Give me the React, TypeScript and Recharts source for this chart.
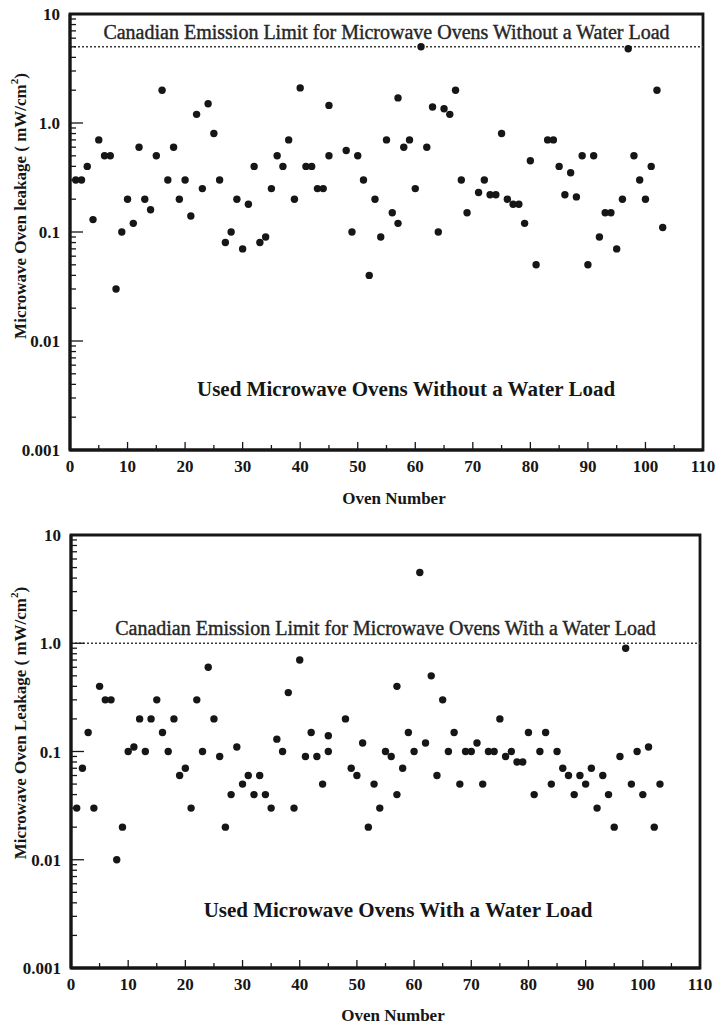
import React from 'react';
import { ScatterChart, Scatter, XAxis, YAxis, ReferenceLine, ReferenceArea, ReferenceDot } from 'recharts';

// ---------- data ----------
const ovensWithout = [
  1, 2, 3, 4, 5, 6, 7, 8, 9, 10, 11, 12, 13, 14, 15, 16, 17, 18, 19, 20,
  21, 22, 23, 24, 25, 26, 27, 28, 29, 30, 31, 32, 33, 34, 35, 36, 37, 38, 39, 40,
  41, 42, 43, 44, 45, 45, 48, 49, 50, 51, 52, 53, 54, 55, 56, 57, 57, 58, 59, 60,
  61, 62, 63, 64, 65, 66, 67, 68, 69, 71, 72, 73, 74, 75, 76, 77, 78, 79, 80, 81,
  83, 84, 85, 86, 87, 88, 89, 90, 91, 92, 93, 94, 95, 96, 97, 98, 99, 100, 101, 102, 103,
];
const leakageWithout = [
  0.3, 0.3, 0.4, 0.13, 0.7, 0.5, 0.5, 0.03, 0.1, 0.2,
  0.12, 0.6, 0.2, 0.16, 0.5, 2.0, 0.3, 0.6, 0.2, 0.3,
  0.14, 1.2, 0.25, 1.5, 0.8, 0.3, 0.08, 0.1, 0.2, 0.07,
  0.18, 0.4, 0.08, 0.09, 0.25, 0.5, 0.4, 0.7, 0.2, 2.1,
  0.4, 0.4, 0.25, 0.25, 1.45, 0.5,
  0.56, 0.1, 0.5, 0.3, 0.04, 0.2, 0.09, 0.7, 0.15, 1.7, 0.12,
  0.6, 0.7, 0.25, 5.0, 0.6, 1.4, 0.1, 1.35, 1.2, 2.0, 0.3, 0.15,
  0.23, 0.3, 0.22, 0.22, 0.8, 0.2, 0.18, 0.18, 0.12, 0.45, 0.05,
  0.7, 0.7, 0.4, 0.22, 0.35, 0.21, 0.5, 0.05, 0.5, 0.09, 0.15, 0.15, 0.07, 0.2, 4.8, 0.5, 0.3, 0.2, 0.4, 2.0, 0.11,
];

const ovensWith = [
  1, 2, 3, 4, 5, 6, 7, 8, 9, 10, 11, 12, 13, 14, 15, 16, 17, 18, 19, 20,
  21, 22, 23, 24, 25, 26, 27, 28, 29, 30, 31, 32, 33, 34, 35, 36, 37, 38, 39, 40,
  41, 42, 43, 44, 45, 45, 48, 49, 50, 51, 52, 53, 54, 55, 56, 57, 57, 58, 59, 60,
  61, 62, 63, 64, 65, 66, 67, 68, 69, 70, 71, 72, 73, 74, 75, 76, 77, 78, 79, 80,
  81, 82, 83, 84, 85, 86, 87, 88, 89, 90, 91, 92, 93, 94, 95, 96, 97, 98, 99, 100, 101, 102, 103,
];
const leakageWith = [
  0.03, 0.07, 0.15, 0.03, 0.4, 0.3, 0.3, 0.01, 0.02, 0.1,
  0.11, 0.2, 0.1, 0.2, 0.3, 0.15, 0.1, 0.2, 0.06, 0.07,
  0.03, 0.3, 0.1, 0.6, 0.2, 0.09, 0.02, 0.04, 0.11, 0.05,
  0.06, 0.04, 0.06, 0.04, 0.03, 0.13, 0.1, 0.35, 0.03, 0.7,
  0.09, 0.15, 0.09, 0.05, 0.14, 0.1,
  0.2, 0.07, 0.06, 0.12, 0.02, 0.05, 0.03, 0.1, 0.09, 0.4, 0.04,
  0.07, 0.15, 0.1, 4.5, 0.12, 0.5, 0.06, 0.3, 0.1, 0.15, 0.05, 0.1, 0.1,
  0.12, 0.05, 0.1, 0.1, 0.2, 0.09, 0.1, 0.08, 0.08, 0.15,
  0.04, 0.1, 0.15, 0.05, 0.1, 0.07, 0.06, 0.04, 0.06, 0.05,
  0.07, 0.03, 0.06, 0.04, 0.02, 0.09, 0.9, 0.05, 0.1, 0.04, 0.11, 0.02, 0.05,
];

const xTicks = [0, 5, 10, 15, 20, 25, 30, 35, 40, 45, 50, 55, 60, 65, 70, 75, 80, 85, 90, 95, 100, 105, 110];
const xMajorTicks = [0, 10, 20, 30, 40, 50, 60, 70, 80, 90, 100, 110];
const yDecades = [0.001, 0.01, 0.1, 1, 10];
const yDecadeLabels = ['0.001', '0.01', '0.1', '1.0', '10'];
const yMinorSteps = [2, 3, 4, 5, 6, 7, 8, 9];

const limitWithout = 5;
const limitWith = 1;
const limitWithoutText = 'Canadian Emission Limit for Microwave Ovens Without a Water Load';
const limitWithText = 'Canadian Emission Limit for Microwave Ovens With a Water Load';
const noteWithoutText = 'Used Microwave Ovens Without a Water Load';
const noteWithText = 'Used Microwave Ovens With a Water Load';
const noteWithoutAt = { x: 58.4, y: 0.00315 };
const noteWithAt = { x: 57.2, y: 0.00298 };

const xTitle = 'Oven Number';

// ---------- derived ----------
const dataWithout = ovensWithout.map((x, i) => ({ x, y: leakageWithout[i] }));
const dataWith = ovensWith.map((x, i) => ({ x, y: leakageWith[i] }));
const yTicks: number[] = [];
yDecades.forEach((d, i) => {
  yTicks.push(d);
  if (i < yDecades.length - 1) yMinorSteps.forEach((m) => yTicks.push(+(d * m).toPrecision(6)));
});

const FONT = "'Liberation Serif', 'Times New Roman', serif";
const INK = '#161616';

const YTick = (props: any) => {
  const { x, y, payload } = props;
  const v = payload.value;
  const idx = yDecades.findIndex((d) => Math.abs(d - v) / d < 1e-6);
  const major = idx >= 0;
  return (
    <g>
      <line x1={x} x2={x + (major ? 13 : 6)} y1={y} y2={y} stroke={INK} strokeWidth={1.3} />
      {major && (
        <text x={x - 10} y={y + 6} textAnchor="end" fontFamily={FONT} fontWeight="bold" fontSize={17} fill={INK}>
          {yDecadeLabels[idx]}
        </text>
      )}
    </g>
  );
};

const XTick = (props: any) => {
  const { x, y, payload } = props;
  const v = payload.value;
  const major = xMajorTicks.includes(v);
  return (
    <g>
      <line x1={x} x2={x} y1={y} y2={y - (major ? 8 : 5)} stroke={INK} strokeWidth={1.3} />
      {major && (
        <text x={x} y={y + 22} textAnchor="middle" fontFamily={FONT} fontWeight="bold" fontSize={17} fill={INK}>
          {String(v)}
        </text>
      )}
    </g>
  );
};

const Dot = (props: any) => <circle cx={props.cx} cy={props.cy} r={3.7} fill={INK} />;

const limitLabel = (text: string) => (p: any) => {
  const vb = p.viewBox || {};
  return (
    <text
      x={vb.x + vb.width / 2}
      y={vb.y - 8}
      textAnchor="middle"
      fontFamily={FONT}
      fontSize={20}
      fill="#262626"
      stroke="#262626"
      strokeWidth={0.4}
    >
      {text}
    </text>
  );
};

const noteLabel = (text: string) => (p: any) => {
  const vb = p.viewBox || {};
  return (
    <text x={vb.x + (vb.width || 0) / 2} y={vb.y + (vb.height || 0) / 2} textAnchor="middle" fontFamily={FONT} fontWeight="bold" fontSize={21} fill={INK}>
      {text}
    </text>
  );
};

type PanelProps = {
  data: { x: number; y: number }[];
  limit: number;
  limitText: string;
  noteText: string;
  noteAt: { x: number; y: number };
  yTitle: string;
  margin: { top: number; right: number; bottom: number; left: number };
  yTitlePos: { x: number; y: number };
  xTitlePos: { x: number; y: number };
};

const Panel = ({ data, limit, limitText, noteText, noteAt, yTitle, margin, yTitlePos, xTitlePos }: PanelProps) => (
  <ScatterChart width={719} height={513} margin={margin}>
    <XAxis
      type="number"
      dataKey="x"
      domain={[0, 110]}
      ticks={xTicks}
      interval={0}
      tickSize={0}
      tickMargin={0}
      tick={<XTick />}
      axisLine={{ stroke: INK, strokeWidth: 3 }}
      height={30}
      label={{
        content: () => (
          <text x={xTitlePos.x} y={xTitlePos.y} textAnchor="middle" fontFamily={FONT} fontWeight="bold" fontSize={17} fill={INK}>
            {xTitle}
          </text>
        ),
      }}
    />
    <YAxis
      type="number"
      dataKey="y"
      scale="log"
      domain={[0.001, 10]}
      allowDataOverflow
      ticks={yTicks}
      interval={0}
      tickSize={0}
      tickMargin={0}
      tick={<YTick />}
      axisLine={{ stroke: INK, strokeWidth: 3 }}
      width={60}
      label={{
        content: () => (
          <text
            x={yTitlePos.x}
            y={yTitlePos.y}
            transform={`rotate(-90, ${yTitlePos.x}, ${yTitlePos.y})`}
            textAnchor="middle"
            dominantBaseline="central"
            fontFamily={FONT}
            fontWeight="bold"
            fontSize={17}
            fill={INK}
          >
            <tspan>{yTitle}</tspan>
            <tspan dy={-6} fontSize={11}>2</tspan>
            <tspan dy={6}>)</tspan>
          </text>
        ),
      }}
    />
    <ReferenceArea x1={0} x2={110} y1={0.001} y2={10} fill="none" fillOpacity={0} stroke={INK} strokeWidth={2.8} ifOverflow="visible" />
    <ReferenceLine y={limit} stroke="#3a3a3a" strokeWidth={1.6} strokeDasharray="2 2" label={{ content: limitLabel(limitText) }} />
    <ReferenceDot x={noteAt.x} y={noteAt.y} r={0} fill="none" stroke="none" label={{ content: noteLabel(noteText) }} />
    <Scatter data={data} shape={<Dot />} isAnimationActive={false} />
  </ScatterChart>
);

export default function App() {
  return (
    <div style={{ position: 'absolute', left: 0, top: 0, width: 719, height: 1026, background: '#fff' }}>
      <Panel
        data={dataWithout}
        limit={limitWithout}
        limitText={limitWithoutText}
        noteText={noteWithoutText}
        noteAt={noteWithoutAt}
        yTitle="Microwave Oven leakage ( mW/cm"
        margin={{ top: 14, right: 16, bottom: 33, left: 10 }}
        yTitlePos={{ x: 20, y: 206 }}
        xTitlePos={{ x: 394, y: 504 }}
      />
      <Panel
        data={dataWith}
        limit={limitWith}
        limitText={limitWithText}
        noteText={noteWithText}
        noteAt={noteWithAt}
        yTitle="Microwave Oven Leakage ( mW/cm"
        margin={{ top: 22, right: 19, bottom: 28, left: 11 }}
        yTitlePos={{ x: 20, y: 210 }}
        xTitlePos={{ x: 393, y: 508 }}
      />
    </div>
  );
}
